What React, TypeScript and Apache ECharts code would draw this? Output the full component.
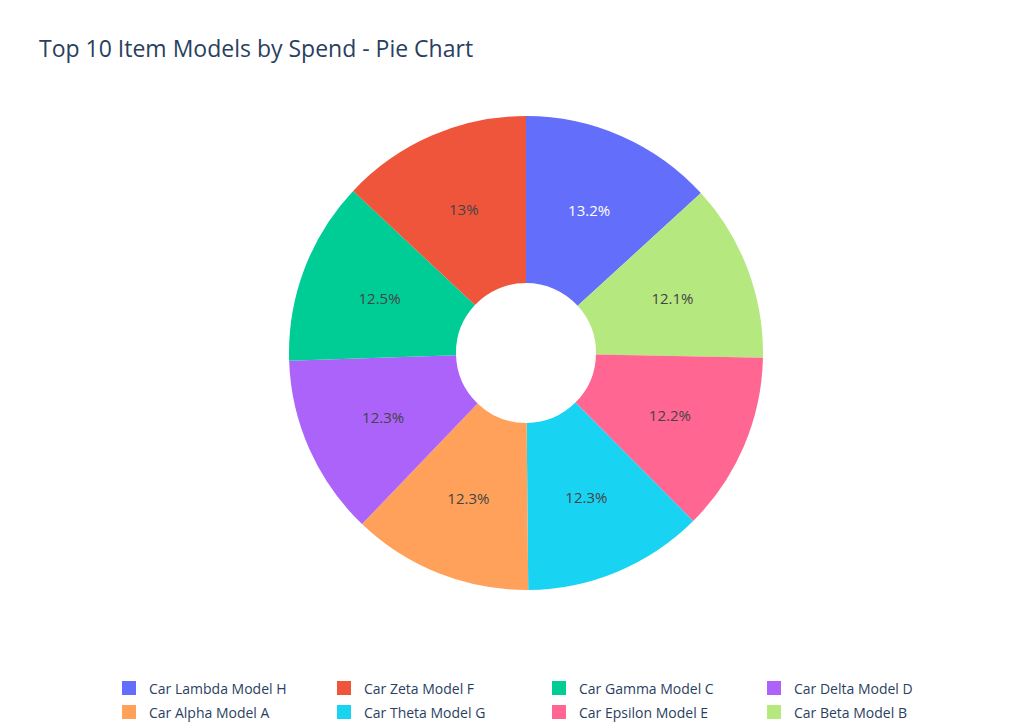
import React, { useEffect, useRef } from 'react';
import * as echarts from 'echarts';

// slice order clockwise from 12 o'clock
const names = [
  'Car Lambda Model H',
  'Car Beta Model B',
  'Car Epsilon Model E',
  'Car Theta Model G',
  'Car Alpha Model A',
  'Car Delta Model D',
  'Car Gamma Model C',
  'Car Zeta Model F',
];
const shares = [13.2, 12.1, 12.2, 12.3, 12.3, 12.3, 12.5, 13];
const colors = ['#636efa', '#b6e880', '#ff6692', '#19d3f3', '#ffa15a', '#ab63fa', '#00cc96', '#ef553b'];
// legend rows, as in the reference
const legendRows = [
  ['Car Lambda Model H', 'Car Zeta Model F', 'Car Gamma Model C', 'Car Delta Model D'],
  ['Car Alpha Model A', 'Car Theta Model G', 'Car Epsilon Model E', 'Car Beta Model B'],
];

const font = '"Open Sans", "Noto Sans", sans-serif';

const App: React.FC = () => {
  const chartRef = useRef<HTMLDivElement>(null);
  useEffect(() => {
    document.body.style.margin = '0';
    if (!chartRef.current) return;
    const chart = echarts.init(chartRef.current, null, { renderer: 'svg' });
    const legends: any[] = [];
    legendRows.forEach((row, r) =>
      row.forEach((name, c) =>
        legends.push({
          data: [name],
          left: 122 + c * 215,
          top: 681 + r * 24,
          itemWidth: 14,
          itemHeight: 14,
          icon: 'rect',
          selectedMode: false,
          padding: 0,
          textStyle: { fontFamily: font, fontSize: 14, color: '#2a3f5f', padding: [0, 0, 0, 8] },
        })
      )
    );
    chart.setOption({
      animation: false,
      color: colors,
      title: {
        text: 'Top 10 Item Models by Spend - Pie Chart',
        left: 34,
        top: 31,
        textStyle: { fontFamily: font, fontSize: 23, fontWeight: 'normal', color: '#2a3f5f' },
      },
      legend: legends,
      series: [
        {
          type: 'pie',
          center: [526, 353],
          radius: [70, 237],
          startAngle: 90,
          clockwise: true,
          label: {
            position: 'inside',
            formatter: (p: any) => p.value + '%',
            fontFamily: font,
            fontSize: 15,
            color: '#444',
          },
          labelLine: { show: false },
          data: names.map((n, i) => ({
            name: n,
            value: shares[i],
            label: i === 0 ? { color: '#fff' } : undefined,
          })),
        },
      ],
    });
    return () => chart.dispose();
  }, []);
  return <div ref={chartRef} style={{ width: 1021, height: 728, background: '#fff' }} />;
};

export default App;
